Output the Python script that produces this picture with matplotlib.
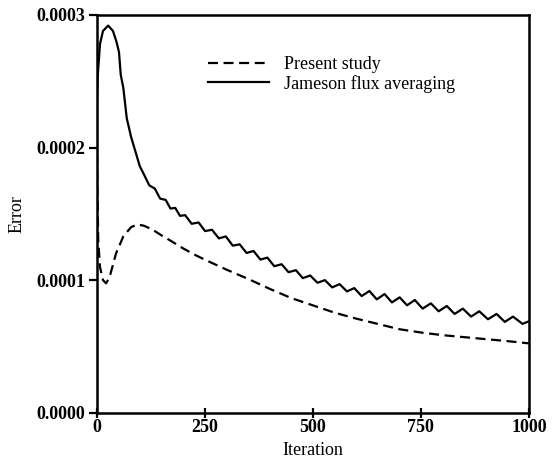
import matplotlib
matplotlib.use("Agg")
import matplotlib.pyplot as plt

# Present study (dashed)
present_iter = [0, 1, 2, 4, 8, 15, 22, 30, 45, 62, 80, 95, 110, 130, 154, 170, 200, 228,
                250, 300, 350, 400, 450, 500, 550, 600, 650, 700, 750, 800, 850, 900, 950, 1000]
present_err = [2.30, 2.10, 1.70, 1.30, 1.10, 1.00, 0.976, 1.02, 1.20, 1.33, 1.40, 1.42, 1.41,
               1.38, 1.33, 1.30, 1.24, 1.19, 1.155, 1.08, 1.01, 0.935, 0.865, 0.81, 0.755,
               0.71, 0.67, 0.63, 0.605, 0.585, 0.57, 0.555, 0.54, 0.523]

# Jameson flux averaging (solid)
jameson_iter = [0, 3, 8, 15, 27, 38, 46, 52, 56, 62, 70, 80, 90, 100,
                110, 122, 135, 147, 160, 171, 182, 193, 205, 220, 236, 251, 267, 283,
                299, 315, 331, 347, 363, 379, 395, 411, 428, 444, 461, 477, 494, 511,
                528, 545, 562, 579, 596, 613, 631, 648, 666, 683, 701, 718, 736, 754,
                773, 791, 810, 828, 847, 866, 885, 905, 925, 944, 963, 985, 1000]
jameson_err = [2.25, 2.55, 2.78, 2.88, 2.92, 2.88, 2.80, 2.72, 2.55, 2.45, 2.22, 2.08, 1.97, 1.86,
               1.795, 1.715, 1.69, 1.615, 1.605, 1.54, 1.545, 1.485, 1.49, 1.425, 1.435, 1.37, 1.38, 1.315,
               1.33, 1.26, 1.27, 1.205, 1.22, 1.155, 1.17, 1.105, 1.12, 1.06, 1.075, 1.015, 1.035, 0.98,
               1.0, 0.945, 0.97, 0.915, 0.94, 0.88, 0.918, 0.855, 0.895, 0.832, 0.87, 0.81, 0.85, 0.785,
               0.825, 0.765, 0.805, 0.745, 0.785, 0.725, 0.765, 0.705, 0.745, 0.685, 0.725, 0.67, 0.69]

scale = 1e-4
xticks = [0, 250, 500, 750, 1000]
yticks = [0.0, 0.0001, 0.0002, 0.0003]
ytick_labels = ["0.0000", "0.0001", "0.0002", "0.0003"]

plt.rcParams['font.family'] = ['Liberation Serif', 'DejaVu Serif']

fig = plt.figure(figsize=(5.54, 4.70), dpi=100)
ax = fig.add_axes([0.1742, 0.1219, 0.7807, 0.8462])

ax.plot(present_iter, [v * scale for v in present_err], color='black', lw=1.6,
        linestyle=(0, (4.5, 2.5)), label='Present study')
ax.plot(jameson_iter, [v * scale for v in jameson_err], color='black', lw=1.6,
        solid_joinstyle='round', label='Jameson flux averaging')

ax.set_xlim(0, 1000)
ax.set_ylim(0, 0.0003)
ax.set_xticks(xticks)
ax.set_xticklabels([str(t) for t in xticks], fontweight='bold', fontsize=13)
ax.set_yticks(yticks)
ax.set_yticklabels(ytick_labels, fontweight='bold', fontsize=13)
ax.tick_params(axis='x', direction='inout', length=7, width=1.6, pad=1)
ax.tick_params(axis='y', direction='out', length=6, width=1.6, pad=2)
for s in ax.spines.values():
    s.set_linewidth(1.8)

ax.set_xlabel('Iteration', fontsize=13, labelpad=4)
ax.set_ylabel('Error', fontsize=13, labelpad=8)

leg = ax.legend(loc='upper left', bbox_to_anchor=(0.258, 0.897), frameon=False,
                fontsize=13, handlelength=3.4, handletextpad=0.8, labelspacing=0.1,
                borderpad=0, borderaxespad=0)

fig.savefig('out.png', dpi=100)
